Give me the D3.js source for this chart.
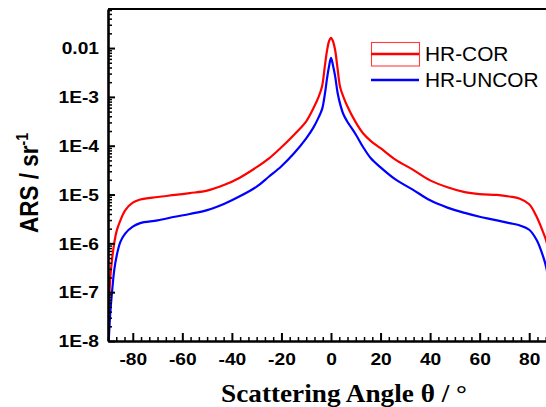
<!DOCTYPE html>
<html>
<head>
<meta charset="utf-8">
<script src="https://cdn.jsdelivr.net/npm/d3@7"></script>
<style>
  html, body { margin: 0; padding: 0; background: #fff; }
  svg { display: block; }
</style>
</head>
<body>
<div id="chart"></div>
<script>
// Scattering angle grid (degrees)
const angles = [-90, -89.5, -89, -88.3, -87.5, -86.5, -85, -83, -80, -77, -70, -63, -57, -50, -43, -37, -30, -25, -20, -15, -10, -7, -5, -3.6, -2.5, -1.6, -0.8, 0,
  0.8, 1.7, 2.6, 3.7, 5, 6.5, 10, 13, 16, 20, 26, 33, 40, 47, 54, 60, 67, 72, 76, 80, 83, 85.5, 87, 88, 89, 90];

// Angle-resolved scattering, corrected (sr^-1)
const hrCor = [2.0e-8, 7.9e-8, 2.2e-7, 5.0e-7, 1.0e-6, 1.8e-6, 2.95e-6, 4.8e-6, 6.8e-6, 7.9e-6, 8.9e-6, 9.8e-6, 1.07e-5, 1.2e-5, 1.58e-5, 2.19e-5, 3.63e-5, 5.5e-5, 9.3e-5, 1.66e-4, 3.16e-4, 6.0e-4, 1.0e-3, 1.66e-3, 4.2e-3, 8.9e-3, 1.38e-2, 1.62e-2,
  1.38e-2, 8.9e-3, 4.0e-3, 1.58e-3, 1.0e-3, 6.6e-4, 3.0e-4, 1.78e-4, 1.26e-4, 8.9e-5, 5.2e-5, 3.24e-5, 1.95e-5, 1.41e-5, 1.12e-5, 1.02e-5, 9.8e-6, 9.1e-6, 8.3e-6, 6.3e-6, 3.5e-6, 1.74e-6, 1.07e-6, 5.0e-7, 1.6e-7, 3.2e-8];

// Angle-resolved scattering, uncorrected (sr^-1)
const hrUncor = [5.0e-9, 1.6e-8, 4.3e-8, 1.1e-7, 2.8e-7, 5.6e-7, 1.07e-6, 1.6e-6, 2.2e-6, 2.6e-6, 2.95e-6, 3.5e-6, 4.0e-6, 4.8e-6, 6.5e-6, 9.1e-6, 1.45e-5, 2.34e-5, 3.8e-5, 6.9e-5, 1.41e-4, 2.4e-4, 3.8e-4, 5.6e-4, 1.12e-3, 2.4e-3, 4.2e-3, 6.3e-3,
  4.4e-3, 2.6e-3, 1.26e-3, 7.1e-4, 4.4e-4, 3.16e-4, 1.7e-4, 9.3e-5, 5.6e-5, 3.6e-5, 2.04e-5, 1.26e-5, 7.6e-6, 5.4e-6, 4.2e-6, 3.5e-6, 2.95e-6, 2.6e-6, 2.34e-6, 1.9e-6, 1.17e-6, 5.6e-7, 3.0e-7, 1.26e-7, 4.0e-8, 1.0e-8];

const xTicks = [-80, -60, -40, -20, 0, 20, 40, 60, 80];
const xTickLabels = ["-80", "-60", "-40", "-20", "0", "20", "40", "60", "80"];
const yTicks = [1e-8, 1e-7, 1e-6, 1e-5, 1e-4, 1e-3, 1e-2];
const yTickLabels = ["1E-8", "1E-7", "1E-6", "1E-5", "1E-4", "1E-3", "0.01"];
const seriesNames = ["HR-COR", "HR-UNCOR"];
const seriesColors = ["#ff0000", "#0000ff"];

const W = 546, H = 407;
const plotL = 108, plotR = 554, plotT = 9, plotB = 341;

const svg = d3.select("#chart").append("svg")
  .attr("width", W).attr("height", H)
  .attr("viewBox", `0 0 ${W} ${H}`);

const x = d3.scaleLinear().domain([-90, 90]).range([plotL, plotR]);
const y = d3.scaleLog().domain([1e-8, Math.pow(10, -1.2)]).range([plotB, plotT]);

svg.append("defs").append("clipPath").attr("id", "plotClip")
  .append("rect").attr("x", plotL).attr("y", plotT).attr("width", plotR - plotL).attr("height", plotB - plotT);

// Curves
const line = d3.line()
  .x(d => x(d[0]))
  .y(d => y(d[1]))
  .curve(d3.curveCatmullRom.alpha(0.5));

const series = [hrCor, hrUncor];
const plot = svg.append("g").attr("clip-path", "url(#plotClip)");
series.forEach((vals, i) => {
  plot.append("path")
    .datum(angles.map((a, k) => [a, vals[k]]))
    .attr("fill", "none")
    .attr("stroke", seriesColors[i])
    .attr("stroke-width", 2.2)
    .attr("stroke-linejoin", "round")
    .attr("d", line);
});

// Top frame line
svg.append("line")
  .attr("x1", plotL).attr("x2", W + 5)
  .attr("y1", plotT).attr("y2", plotT)
  .attr("stroke", "#000").attr("stroke-width", 2.2);

const tickFont = "'Liberation Sans', Arial, sans-serif";
const stretch = 1.17;

// Y axis: major ticks
const yAxis = svg.append("g").attr("transform", `translate(${plotL},0)`)
  .call(d3.axisLeft(y).tickValues(yTicks).tickSizeInner(-7).tickSizeOuter(0).tickPadding(9)
    .tickFormat((d, i) => yTickLabels[i]));
// minor log ticks
const yMinor = [];
for (let e = -8; e <= -2; e++) for (let m = 2; m <= 9; m++) {
  const v = m * Math.pow(10, e);
  if (v < y.domain()[1]) yMinor.push(v);
}
svg.append("g").attr("transform", `translate(${plotL},0)`)
  .call(d3.axisLeft(y).tickValues(yMinor).tickSizeInner(-4).tickSizeOuter(0).tickFormat(""))
  .call(g => g.select(".domain").remove())
  .selectAll("line").attr("stroke-width", 1.5);

yAxis.select(".domain").attr("stroke-width", 2.6);
yAxis.selectAll(".tick line").attr("stroke-width", 2);
yAxis.selectAll(".tick text")
  .attr("x", null).attr("dy", null)
  .attr("transform", `translate(-9,5.8) scale(${stretch},1)`)
  .style("font-family", tickFont).style("font-weight", "bold").style("font-size", "16.4px")
  .attr("fill", "#000");

// X axis: major ticks
const xAxis = svg.append("g").attr("transform", `translate(0,${plotB})`)
  .call(d3.axisBottom(x).tickValues(xTicks).tickSizeInner(-8).tickSizeOuter(0).tickPadding(12)
    .tickFormat((d, i) => xTickLabels[i]));
const xMinor = d3.range(-90, 90.001, 20 / 6).filter(v => Math.abs(v / 20 - Math.round(v / 20)) > 1e-6);
svg.append("g").attr("transform", `translate(0,${plotB})`)
  .call(d3.axisBottom(x).tickValues(xMinor).tickSizeInner(-4).tickSizeOuter(0).tickFormat(""))
  .call(g => g.select(".domain").remove())
  .selectAll("line").attr("stroke-width", 1.5);

xAxis.select(".domain").attr("stroke-width", 2.6);
xAxis.selectAll(".tick line").attr("stroke-width", 2);
xAxis.selectAll(".tick text")
  .attr("y", null).attr("dy", null)
  .attr("transform", `translate(0,24) scale(${stretch},1)`)
  .style("font-family", tickFont).style("font-weight", "bold").style("font-size", "16.4px")
  .attr("fill", "#000");

// Axis titles
const yTitle = svg.append("text")
  .attr("transform", `translate(38,233) rotate(-90) scale(1,1.15)`)
  .attr("text-anchor", "start")
  .style("font-family", tickFont).style("font-weight", "bold").style("font-size", "22.5px")
  .attr("fill", "#000");
yTitle.append("tspan").text("ARS / sr");
yTitle.append("tspan").attr("dy", -9).style("font-size", "14px").text("-1");

svg.append("text")
  .attr("transform", `translate(344,402) scale(1.09,1)`)
  .attr("text-anchor", "middle")
  .style("font-family", "'Liberation Serif', 'Times New Roman', serif")
  .style("font-weight", "bold").style("font-size", "25px")
  .attr("fill", "#000")
  .text("Scattering Angle \u03B8 / \u00B0");

// Legend
const legend = svg.append("g");
legend.append("rect")
  .attr("x", 371.5).attr("y", 42.5).attr("width", 48).attr("height", 23.5)
  .attr("fill", "none").attr("stroke", "#ff3c3c").attr("stroke-width", 1.1);
seriesNames.forEach((name, i) => {
  const ly = 54 + i * 26;
  legend.append("line")
    .attr("x1", 371).attr("x2", 419).attr("y1", ly).attr("y2", ly)
    .attr("stroke", seriesColors[i]).attr("stroke-width", 2.4);
  legend.append("text")
    .attr("transform", `translate(425,${ly + 7}) scale(1.07,1)`)
    .style("font-family", tickFont).style("font-size", "19.5px")
    .attr("fill", "#000")
    .text(name);
});
</script>
</body>
</html>
